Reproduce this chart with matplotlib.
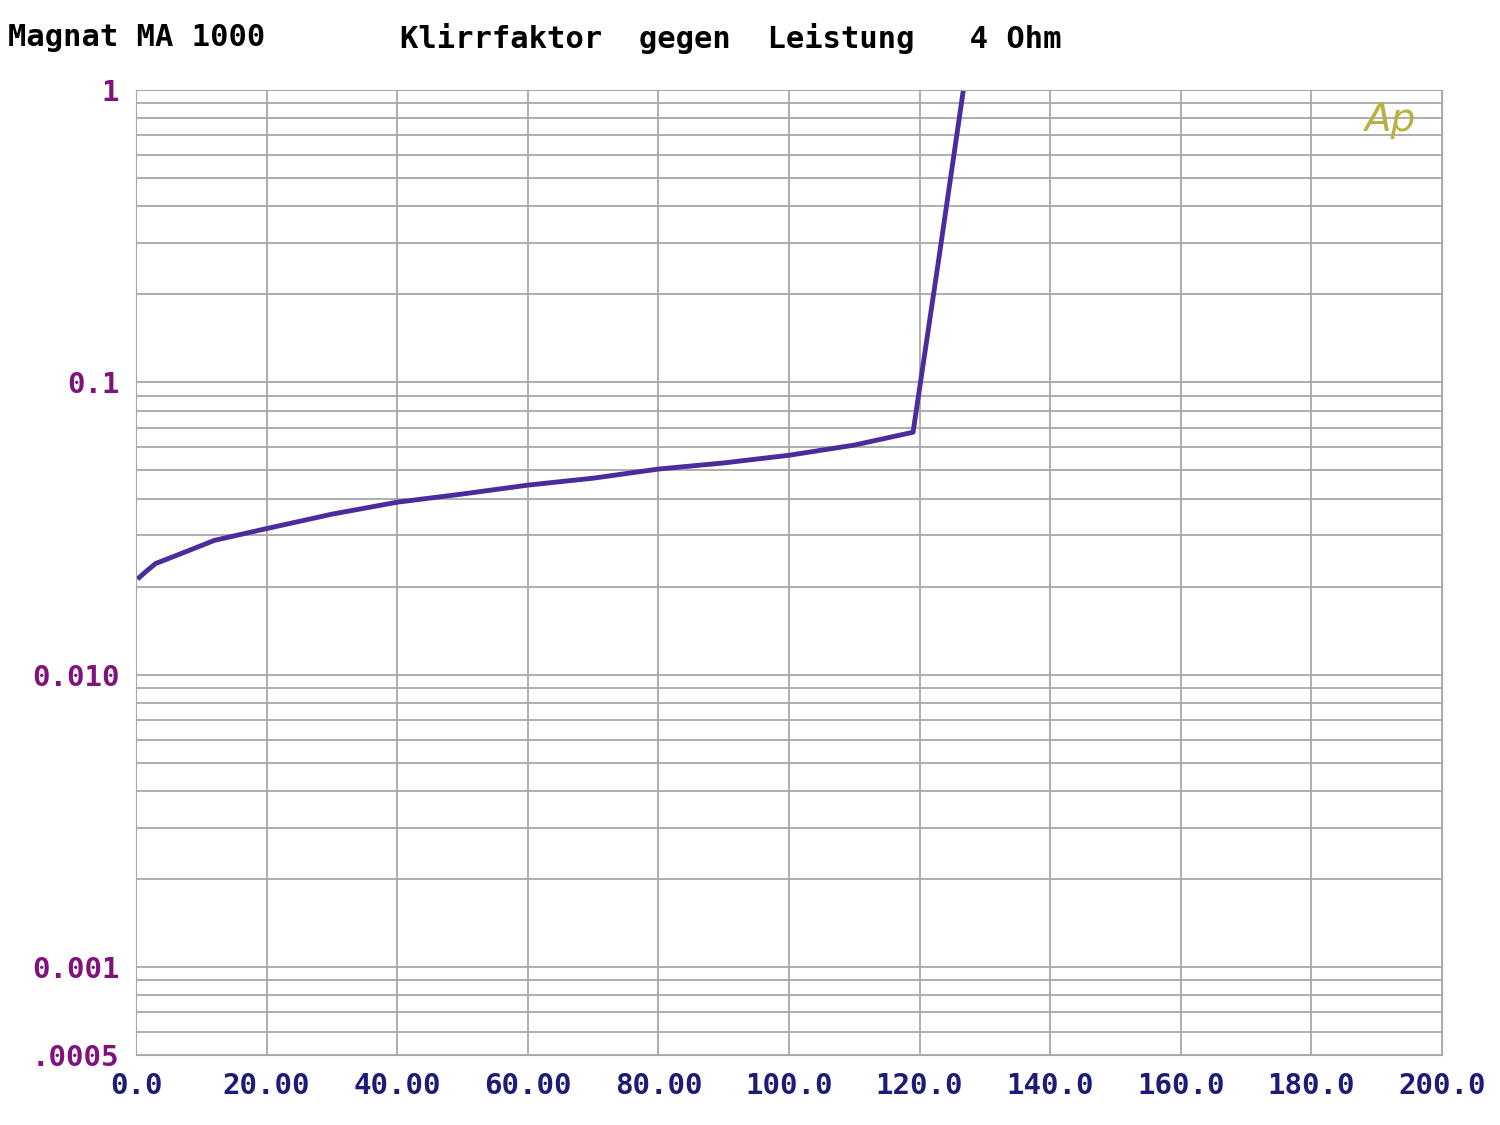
import matplotlib
matplotlib.use("Agg")
import matplotlib.pyplot as plt
from matplotlib.ticker import FixedLocator, LogLocator, NullFormatter

# Leistung (W) und Klirrfaktor (%)
leistung = [0.5, 1.5, 3, 7, 12, 20, 30, 40, 50, 60, 70, 80, 90, 100, 110, 119, 123, 126.7]
klirr = [0.0215, 0.0225, 0.024, 0.026, 0.0288, 0.0316, 0.0354, 0.0389, 0.0415, 0.0445, 0.047,
         0.0505, 0.053, 0.0563, 0.061, 0.0675, 0.27, 1.0]

xticks = [0, 20, 40, 60, 80, 100, 120, 140, 160, 180, 200]
xlabels = ['0.0', '20.00', '40.00', '60.00', '80.00', '100.0', '120.0', '140.0', '160.0', '180.0', '200.0']
yticks = [1, 0.1, 0.01, 0.001, 0.0005]
ylabels = ['1', '0.1', '0.010', '0.001', '.0005']

fig = plt.figure(figsize=(15, 11.25), dpi=100)
ax = fig.add_axes([136/1500, 1 - 1055/1125, (1442-136)/1500, (1055-90)/1125])
ax.set_yscale('log')
ax.set_xlim(0, 200)
ax.set_ylim(0.0005, 1)

ax.plot(leistung, klirr, color='#4b2c9c', lw=3.5, solid_joinstyle='round')

ax.xaxis.set_major_locator(FixedLocator(xticks))
ax.set_xticklabels(xlabels)
ax.yaxis.set_major_locator(FixedLocator(yticks))
ax.yaxis.set_minor_locator(LogLocator(base=10, subs=range(2, 10)))
ax.yaxis.set_minor_formatter(NullFormatter())
ax.set_yticklabels(ylabels)
ax.grid(True, which='both', color='#a8a8a8', lw=1.3)
ax.tick_params(which='both', length=0, pad=12)
for lab in ax.get_xticklabels():
    lab.set(family='DejaVu Sans Mono', weight='bold', size=21, color='#1c1c78')
for lab in ax.get_yticklabels():
    lab.set(family='DejaVu Sans Mono', weight='bold', size=21, color='#80127e')
for s in ax.spines.values():
    s.set_color('#a8a8a8')

ax.text(0.94, 0.957, 'Ap', transform=ax.transAxes, color='#b8b040', fontsize=28, style='italic')

fig.text(8/1500, 1 - 38/1125, 'Magnat MA 1000', family='DejaVu Sans Mono', weight='bold',
         size=22, va='center')
fig.text(400/1500, 1 - 38/1125, 'Klirrfaktor  gegen  Leistung   4 Ohm', family='DejaVu Sans Mono',
         weight='bold', size=22, va='center')

fig.savefig('out.png')
